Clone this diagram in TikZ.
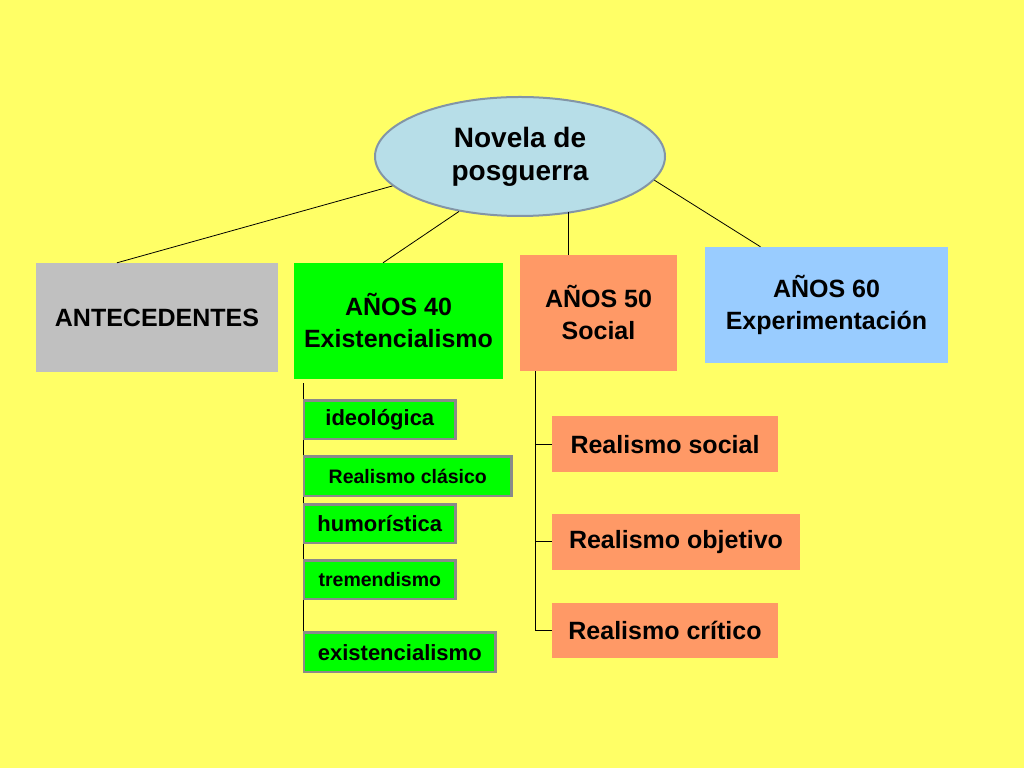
\documentclass[tikz,border=0pt]{standalone}
\usepackage{fontspec}
\setmainfont{Liberation Sans}
\usetikzlibrary{positioning,shapes.geometric}
\definecolor{bgyellow}{HTML}{FFFF66}
\definecolor{ellblue}{HTML}{B7DEE8}
\definecolor{ellline}{HTML}{8395A6}
\definecolor{antegray}{HTML}{C0C0C0}
\definecolor{litgreen}{HTML}{00FF00}
\definecolor{salmon}{HTML}{FF9966}
\definecolor{skyblue}{HTML}{99CCFF}
\definecolor{subline}{HTML}{8A8A8A}
\pgfdeclarelayer{back}
\pgfsetlayers{back,main}
\tikzset{
    title/.style =  {ellipse,
                    fill=ellblue,
                    draw=ellline,
                    line width=2pt,
                    text=black,
                    inner sep=0pt,
                    minimum width=290pt,
                    minimum height=119pt,
                    align=center,
                    font=\bfseries\fontsize{28}{33}\selectfont},
    era/.style =    {rectangle,
                    text=black,
                    inner sep=0pt,
                    minimum height=116pt,
                    align=center,
                    font=\bfseries\fontsize{25}{32}\selectfont},
    sub/.style =    {rectangle,
                    fill=litgreen,
                    draw=subline,
                    line width=2.5pt,
                    text=black,
                    inner sep=0pt,
                    minimum width=151.5pt,
                    minimum height=38.5pt,
                    font=\bfseries\fontsize{22}{26}\selectfont},
    real/.style =   {rectangle,
                    fill=salmon,
                    text=black,
                    inner sep=0pt,
                    minimum width=226pt,
                    minimum height=56pt,
                    font=\bfseries\fontsize{25}{30}\selectfont},
    link/.style =   {draw=black,
                    line width=0.8pt},
    -}

\begin{document}
\begin{tikzpicture}[x=1pt,y=1pt]
                \useasboundingbox (0,0) rectangle (1024,768);
                \begin{pgfonlayer}{back}
                    \fill [bgyellow] (0,0) rectangle (1024,768);
                \end{pgfonlayer}

                \node[title]        (nov)  at (520,611.5)                                                   {Novela de\\posguerra};
                \node[era,fill=antegray,minimum width=242pt,minimum height=109pt]  (ante) at (157,450.5)   {ANTECEDENTES};
                \node[era,fill=litgreen,minimum width=209pt]  (a40)  at (398.5,447)                        {AÑOS 40\\Existencialismo};
                \node[era,fill=salmon,minimum width=157pt]    (a50)  at (598.5,455)                        {AÑOS 50\\Social};
                \node[era,fill=skyblue,minimum width=243pt]   (a60)  at (826.5,463)                        {AÑOS 60\\Experimentación};

                \node[sub]          (ideo)  [below right=20pt and 9pt of a40.south west]                      {ideológica};
                \node[sub,minimum width=207.5pt,minimum height=39.5pt,font=\bfseries\fontsize{19.5}{23}\selectfont]
                                    (clas)  [below right=15pt and 0pt of ideo.south west]                     {Realismo clásico};
                \node[sub]          (humo)  [below right=6pt and 0pt of clas.south west]                      {humorística};
                \node[sub,font=\bfseries\fontsize{19.5}{23}\selectfont]
                                    (trem)  [below right=15pt and 0pt of humo.south west]                     {tremendismo};
                \node[sub,minimum width=191.5pt,minimum height=39.5pt]
                                    (exis)  [below right=31pt and 0pt of trem.south west]                     {existencialismo};

                \node[real]         (soc)   [below right=45pt and 32pt of a50.south west]                     {Realismo social};
                \node[real,minimum width=248pt]
                                    (obj)   [below right=41pt and 0pt of soc.south west]                      {Realismo objetivo};
                \node[real,minimum height=55pt]
                                    (crit)  [below right=33pt and 0pt of obj.south west]                      {Realismo crítico};

                \coordinate         (c50)   at ([xshift=-30pt]a50.north);
                \coordinate         (l40)   at ([xshift=9.8pt,yshift=-4pt]a40.south west);
                \coordinate         (l50)   at ([xshift=16pt]a50.south west);

                \path [link]    (nov.193)       edge    ([xshift=-40pt]ante.north)
                                (nov.222.5)     edge    ([xshift=-15.5pt]a40.north)
                                (c50 |- nov.315) edge   (c50)
                                (nov.350)       edge    ([xshift=-66pt]a60.north);

                \begin{pgfonlayer}{back}
                    \draw [link,line width=1pt] (l40) -- (l40 |- exis.south);
                \end{pgfonlayer}

                \draw [link]    (l50) |- (crit.west);
                \path [link]    (l50 |- soc.west)   edge    (soc.west)
                                (l50 |- obj.west)   edge    (obj.west);
        \end{tikzpicture}
\end{document}
